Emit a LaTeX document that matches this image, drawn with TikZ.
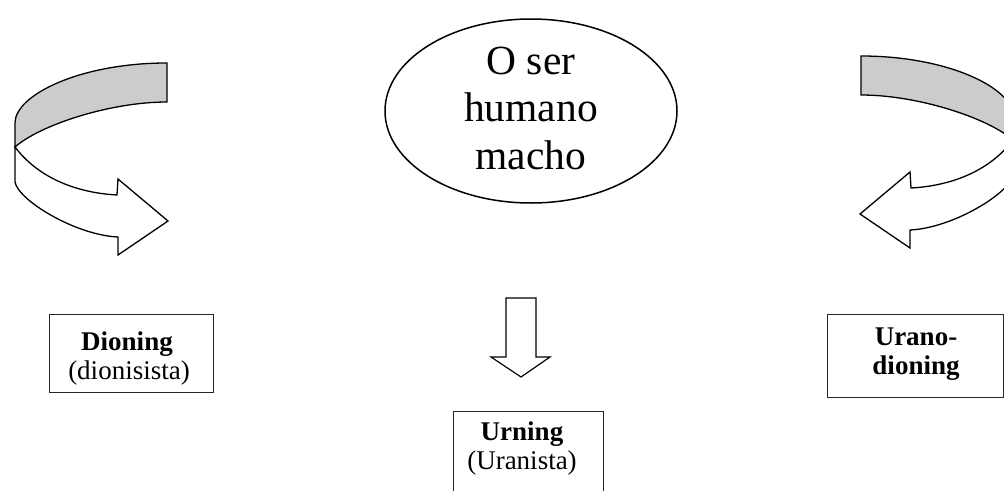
\documentclass[tikz,border=0pt]{standalone}
\usepackage{fontspec}
\setmainfont{Liberation Serif}
\usetikzlibrary{shapes.geometric}
\definecolor{bandgray}{RGB}{204,204,204}
\tikzset{
  outline/.style={draw=black, line width=1.3pt, line join=miter},
  backband/.style={outline, fill=bandgray},
  frontband/.style={outline, fill=white},
  namebox/.style={draw=black!85, line width=1pt, fill=white, inner sep=0pt},
  bigtext/.style={font=\fontsize{41.5}{47.5}\selectfont, align=center, inner sep=0pt},
  smalltext/.style={font=\fontsize{27}{29}\selectfont, inner sep=0pt, anchor=base},
}
% Curved ribbon arrow: shaded back band, white front band with its head
\newcommand\ribbonarrow{%
  \filldraw[backband] (167,63) .. controls (80,63) and (15,95) .. (15,123)
    -- (15,147) .. controls (40,125) and (110,102) .. (167,102) -- cycle;
  \filldraw[frontband] (15,147) .. controls (40,180) and (80,193) .. (117,195)
    -- (118,179) -- (168,221) -- (118,255) -- (118,237)
    .. controls (75,235) and (18,200) .. (15,182) -- cycle;
}
\begin{document}
\begin{tikzpicture}[x=1pt, y=-1pt]
  \useasboundingbox (0,0) rectangle (1004,490);
  \clip (0,0) rectangle (1004,490);
  \fill[white] (0,0) rectangle (1004,490);

  % centre ellipse
  \node[draw, line width=1.5pt, ellipse, minimum width=292pt, minimum height=184pt, inner sep=0pt]
    (macho) at (531,111) {};
  \node[bigtext, anchor=base] (macho1) at (531,74) {O ser};
  \node[bigtext, anchor=base] (macho2) at (531,121.5) {humano};
  \node[bigtext, anchor=base] (macho3) at (531,169) {macho};

  % left and right turning arrows
  \begin{scope}
    \ribbonarrow
  \end{scope}
  \begin{scope}[shift={(1028,-7)}, xscale=-1]
    \ribbonarrow
  \end{scope}

  % straight arrow downwards
  \filldraw[frontband, line width=1.2pt] (506,298) -- (536,298) -- (536,357) -- (550,357)
    -- (521,377) -- (491,357) -- (506,357) -- cycle;

  % Dioning
  \node[namebox, minimum width=164pt, minimum height=78pt] (dion) at (131,353) {};
  \node[smalltext] (dionA) at (127,350) {\textbf{Dioning}};
  \node[smalltext] (dionB) at (129,379) {(dionisista)};

  % Urning
  \node[namebox, minimum width=150pt, minimum height=100pt] (urn) at (528,461) {};
  \node[smalltext] (urnA) at (522,440) {\textbf{Urning}};
  \node[smalltext] (urnB) at (522,469) {(Uranista)};

  % Urano-dioning
  \node[namebox, minimum width=176pt, minimum height=83pt] (urdi) at (915,355.5) {};
  \node[smalltext] (urdiA) at (916,345) {\textbf{Urano-}};
  \node[smalltext] (urdiB) at (916,374) {\textbf{dioning}};
\end{tikzpicture}
\end{document}
